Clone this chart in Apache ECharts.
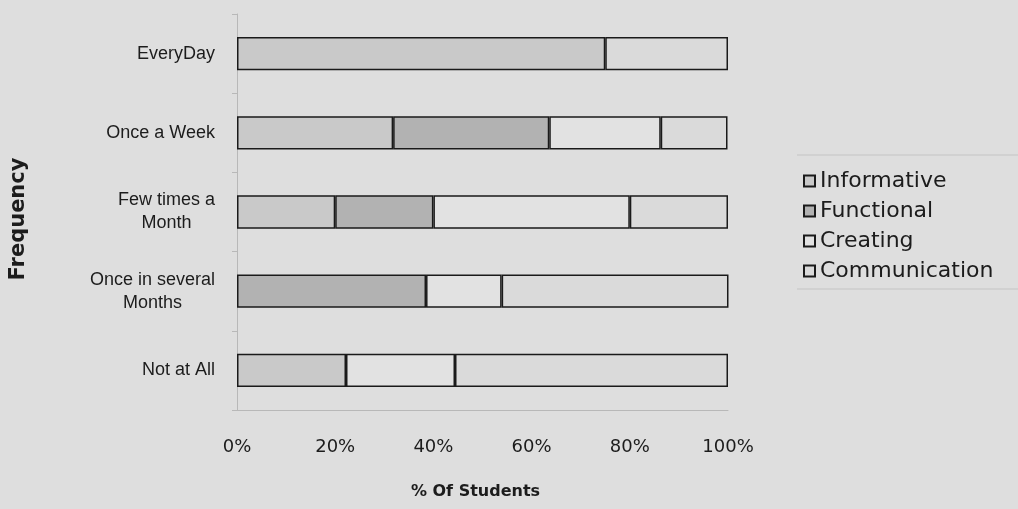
<!DOCTYPE html>
<html>
<head>
<meta charset="utf-8">
<script src="https://cdn.jsdelivr.net/npm/echarts@6/dist/echarts.min.js"></script>
<style>
  html, body { margin: 0; padding: 0; background: #dedede; }
  #chart { width: 1018px; height: 509px; }
</style>
</head>
<body>
<div id="chart"></div>
<script>
// Usage frequency by purpose, share of students (%)
const categories = ['EveryDay', 'Once a Week', 'Few times a\nMonth', 'Once in several\nMonths', 'Not at All'];
const seriesNames = ['Informative', 'Functional', 'Creating', 'Communication'];
const informative = [75, 31.8, 20, null, 22.2];
const functional = [null, 31.8, 20, 38.5, null];
const creating = [null, 22.7, 40, 15.4, 22.2];
const communication = [25, 13.6, 20, 46.2, 55.6];
const xTicks = [0, 20, 40, 60, 80, 100];

const values = [informative, functional, creating, communication];
const fills = ['#c9c9c9', '#b2b2b2', '#e2e2e2', '#dadada'];
const FONT = 'DejaVu Sans';
const LABEL_FONT = 'Liberation Sans';
const INK = '#1c1c1c';

const chart = echarts.init(document.getElementById('chart'), null, { renderer: 'canvas' });

chart.setOption({
  backgroundColor: '#dedede',
  animation: false,
  grid: { left: 237, right: 290, top: 14, bottom: 99, containLabel: false },
  xAxis: {
    type: 'value',
    min: xTicks[0],
    max: xTicks[xTicks.length - 1],
    interval: xTicks[1] - xTicks[0],
    name: '% Of Students',
    nameLocation: 'middle',
    nameGap: 74,
    nameTextStyle: { fontFamily: FONT, fontSize: 16, fontWeight: 'bold', color: INK, padding: [0, 14, 0, 0] },
    axisLine: { show: true, lineStyle: { color: '#b8b8b8', width: 1 } },
    axisTick: { show: false },
    splitLine: { show: false },
    axisLabel: {
      formatter: '{value}%',
      margin: 28,
      fontFamily: FONT, fontSize: 18, color: INK
    }
  },
  yAxis: {
    type: 'category',
    inverse: true,
    data: categories,
    name: 'Frequency',
    nameLocation: 'middle',
    nameRotate: 90,
    nameGap: 208,
    nameTextStyle: { fontFamily: FONT, fontSize: 21, fontWeight: 'bold', color: INK, padding: [0, 14, 0, 0] },
    axisLine: { show: true, lineStyle: { color: '#b8b8b8', width: 1 } },
    axisTick: { show: true, length: 5, lineStyle: { color: '#b8b8b8' } },
    axisLabel: {
      margin: 22,
      align: 'right',
      formatter: v => v.split('\n').map(s => '{c|' + s + '}').join('\n'),
      rich: {
        c: { align: 'center', fontFamily: LABEL_FONT, fontSize: 18, color: INK, lineHeight: 23 }
      }
    }
  },
  legend: {
    orient: 'vertical',
    left: 798,
    top: 165,
    itemWidth: 11,
    itemHeight: 11,
    itemGap: 8,
    icon: 'rect',
    textStyle: { fontFamily: FONT, fontSize: 22, color: INK, lineHeight: 22 },
    data: seriesNames
  },
  graphic: [
    { type: 'line', shape: { x1: 797, y1: 155, x2: 1018, y2: 155 }, style: { stroke: '#c4c4c4', lineWidth: 1 } },
    { type: 'line', shape: { x1: 797, y1: 289, x2: 1018, y2: 289 }, style: { stroke: '#c4c4c4', lineWidth: 1 } }
  ],
  series: seriesNames.map((name, i) => ({
    name,
    type: 'bar',
    stack: 'share',
    barWidth: '42%',
    data: values[i],
    itemStyle: { color: fills[i], borderColor: '#1a1a1a', borderWidth: 1.5 }
  }))
});
</script>
</body>
</html>
